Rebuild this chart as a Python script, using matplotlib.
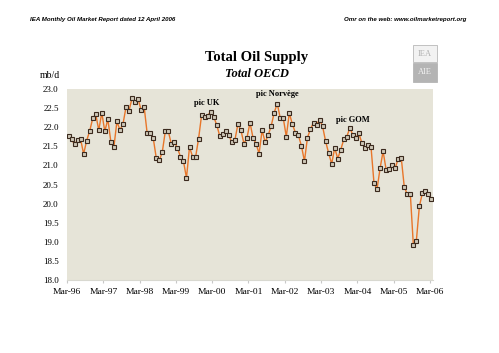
import matplotlib
matplotlib.use("Agg")
import matplotlib.pyplot as plt
from matplotlib.patches import Rectangle

# Total OECD oil supply, mb/d, monthly from Mar-96 to Mar-06
supply = [
    21.77, 21.68, 21.55, 21.67, 21.68, 21.30, 21.65, 21.90, 22.23, 22.34,
    21.92, 22.38, 21.89, 22.21, 21.62, 21.48, 22.15, 21.93, 22.08, 22.52,
    22.43, 22.76, 22.67, 22.74, 22.45, 22.54, 21.84, 21.84, 21.72, 21.20,
    21.13, 21.35, 21.89, 21.89, 21.56, 21.61, 21.46, 21.23, 21.11, 20.67,
    21.48, 21.23, 21.21, 21.70, 22.32, 22.27, 22.30, 22.41, 22.27, 22.06,
    21.77, 21.83, 21.90, 21.79, 21.60, 21.66, 22.08, 21.92, 21.57, 21.72,
    22.12, 21.72, 21.57, 21.31, 21.92, 21.61, 21.79, 22.03, 22.38, 22.62,
    22.24, 22.24, 21.75, 22.37, 22.08, 21.86, 21.79, 21.51, 21.11, 21.73,
    21.95, 22.12, 22.06, 22.20, 22.02, 21.63, 21.32, 21.04, 21.46, 21.18,
    21.41, 21.68, 21.75, 21.98, 21.80, 21.73, 21.84, 21.58, 21.45, 21.54,
    21.49, 20.53, 20.38, 20.92, 21.37, 20.89, 20.91, 21.02, 20.92, 21.18,
    21.20, 20.44, 20.24, 20.26, 18.92, 19.03, 19.93, 20.28, 20.34, 20.24,
    20.13,
]
year_labels = ["Mar-96", "Mar-97", "Mar-98", "Mar-99", "Mar-00", "Mar-01",
               "Mar-02", "Mar-03", "Mar-04", "Mar-05", "Mar-06"]
peaks = ["pic UK", "pic Norvège", "pic GOM"]
peak_pos = [(45.7, 22.63), (69.0, 22.87), (93.9, 22.18)]

serif = "Liberation Serif"

fig = plt.figure(figsize=(4.99, 3.53), dpi=100)
ax = fig.add_axes([67 / 499, 1 - 280 / 353, 366 / 499, 191 / 353])
ax.set_facecolor("#e6e4d8")

months = range(len(supply))
ax.plot(months, supply, color="#e8762a", lw=1.0, marker="s", ms=3.2,
        mfc="#cfc8b8", mec="#3b2a1e", mew=0.8)

ax.set_xlim(-0.5, len(supply) - 0.5)
ax.set_ylim(18.0, 23.0)
ax.set_xticks([12 * i - 0.5 for i in range(len(year_labels))])
ax.set_xticklabels(year_labels, fontsize=6.8, family=serif)
ax.set_yticks([18 + 0.5 * i for i in range(11)])
ax.set_yticklabels([f"{18 + 0.5 * i:.1f}" for i in range(11)],
                   fontsize=6.5, family=serif)
ax.tick_params(axis="y", length=0, pad=6)
ax.tick_params(axis="x", length=2, color="#c8c8c8", pad=4)
for side in ["top", "right", "left"]:
    ax.spines[side].set_visible(False)
ax.spines["bottom"].set_color("#d8d8d0")

for label, (px, py) in zip(peaks, peak_pos):
    ax.text(px, py, label, ha="center", va="center", fontsize=6,
            fontweight="bold", family=serif)

fig.text(30 / 499, 1 - 20 / 353, "IEA Monthly Oil Market Report dated 12 April 2006",
         fontsize=4.4, style="italic", fontweight="bold", family="Liberation Sans",
         va="center")
fig.text(466 / 499, 1 - 20 / 353, "Omr on the web: www.oilmarketreport.org",
         fontsize=4.4, style="italic", fontweight="bold", family="Liberation Sans",
         va="center", ha="right")
fig.text(257 / 499, 1 - 58 / 353, "Total Oil Supply", fontsize=10.5,
         fontweight="bold", family=serif, ha="center", va="center")
fig.text(257 / 499, 1 - 74 / 353, "Total OECD", fontsize=9,
         fontweight="bold", style="italic", family=serif, ha="center", va="center")
fig.text(40 / 499, 1 - 75 / 353, "mb/d", fontsize=7, family=serif, va="center")

# small grey logo in the top right corner
fig.patches.append(Rectangle((413 / 499, 1 - 62 / 353), 24 / 499, 17 / 353,
                             transform=fig.transFigure, fc="#f2f2f2",
                             ec="#b8b8b8", lw=0.6))
fig.patches.append(Rectangle((413 / 499, 1 - 82 / 353), 24 / 499, 19 / 353,
                             transform=fig.transFigure, fc="#b4b4b4",
                             ec="#b4b4b4", lw=0.6))
fig.text(425 / 499, 1 - 54 / 353, "IEA", fontsize=6, color="#b0b0b0",
         family=serif, ha="center", va="center")
fig.text(425 / 499, 1 - 72 / 353, "AIE", fontsize=6, color="#f4f4f4",
         family=serif, ha="center", va="center")

fig.savefig("out.png", dpi=100)
